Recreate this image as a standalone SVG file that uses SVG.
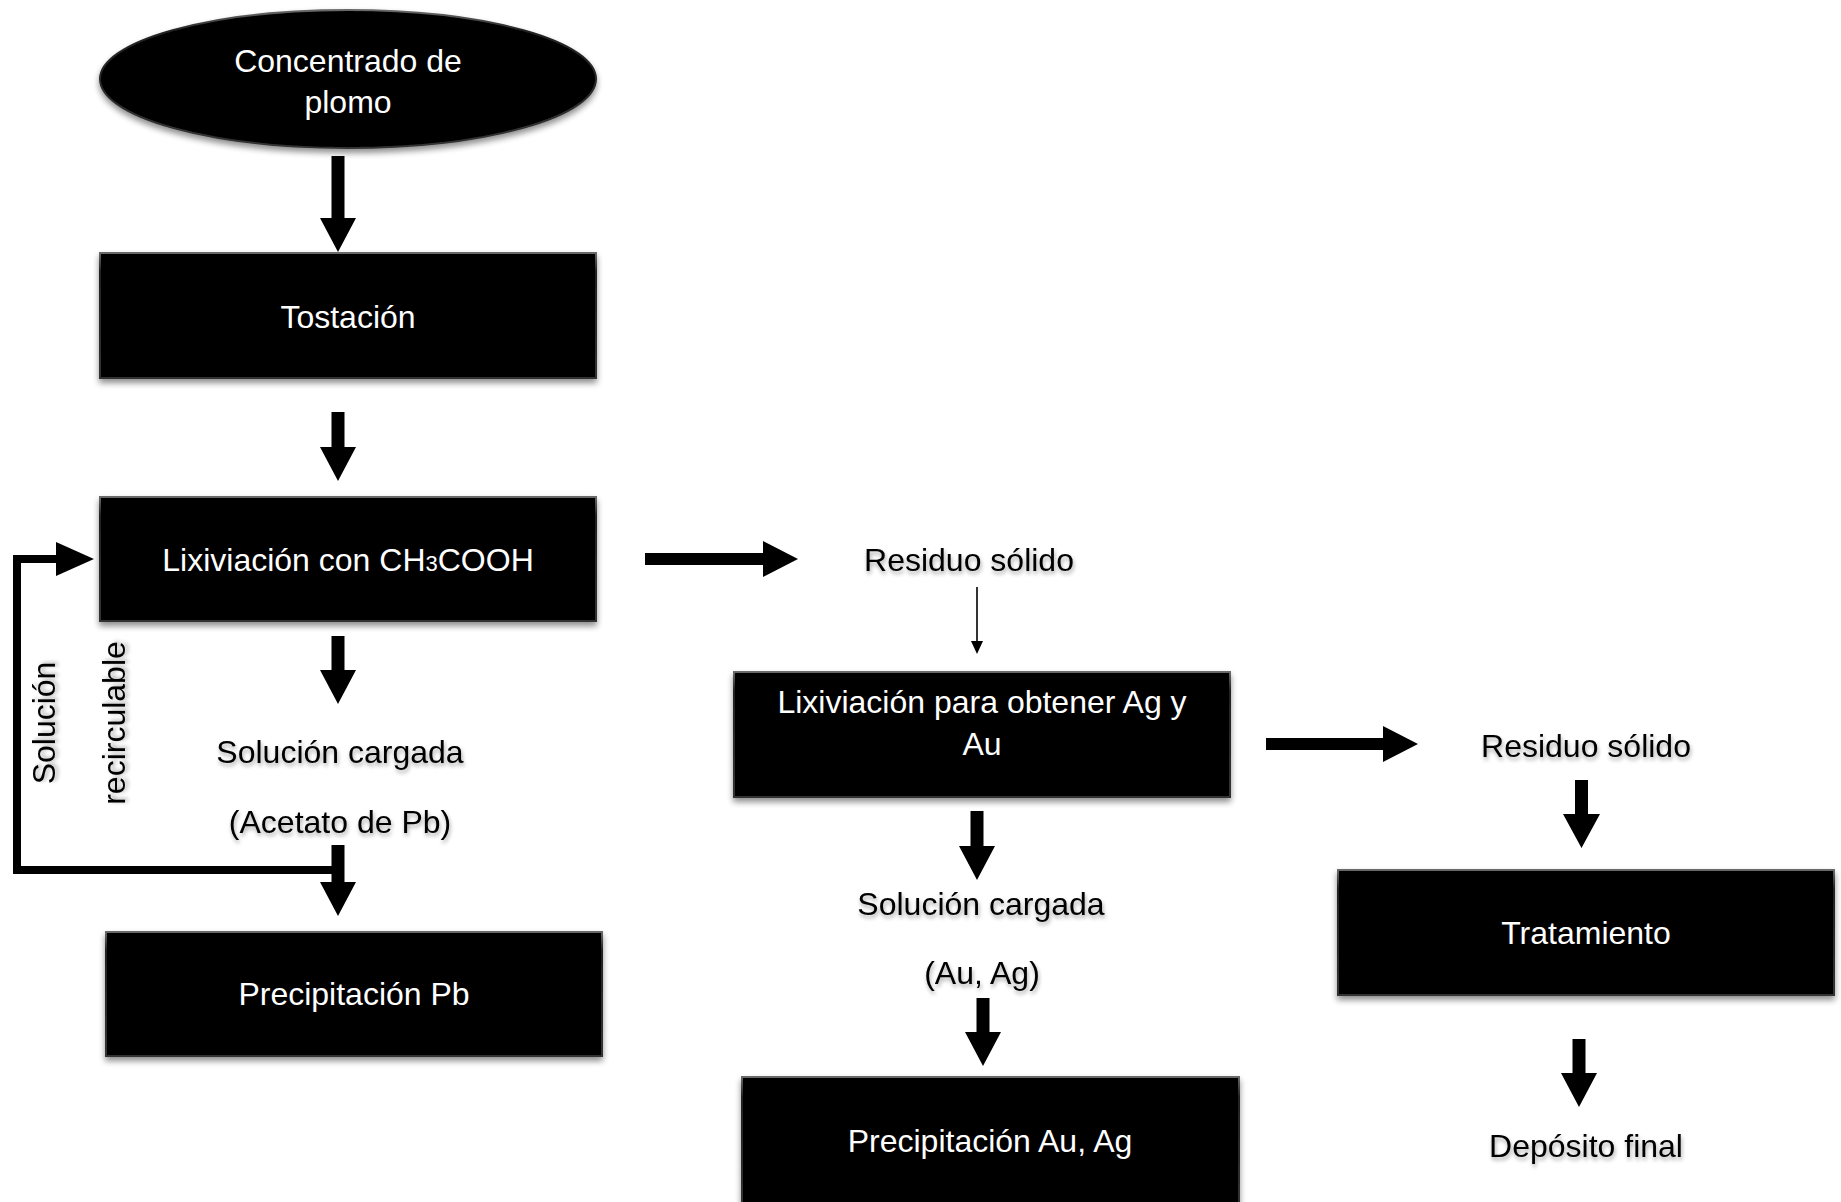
<svg xmlns="http://www.w3.org/2000/svg" width="1841" height="1202" viewBox="0 0 1841 1202">
<defs>
<filter id="shadow" x="-10%" y="-20%" width="120%" height="150%">
<feGaussianBlur in="SourceAlpha" stdDeviation="3"/>
<feOffset dx="0" dy="4" result="b"/>
<feComponentTransfer in="b" result="s"><feFuncA type="linear" slope="0.45"/></feComponentTransfer>
<feMerge><feMergeNode in="s"/><feMergeNode in="SourceGraphic"/></feMerge>
</filter>
<filter id="tshadow" x="-10%" y="-30%" width="120%" height="170%">
<feGaussianBlur in="SourceAlpha" stdDeviation="2.2"/>
<feOffset dx="1" dy="3" result="b"/>
<feComponentTransfer in="b" result="s"><feFuncA type="linear" slope="0.35"/></feComponentTransfer>
<feMerge><feMergeNode in="s"/><feMergeNode in="SourceGraphic"/></feMerge>
</filter>
<linearGradient id="bevel" x1="0" y1="0" x2="0" y2="1">
<stop offset="0" stop-color="#6a6a6a"/>
<stop offset="0.15" stop-color="#222"/>
<stop offset="1" stop-color="#333"/>
</linearGradient>
</defs>
<style>
.box{fill:#000;stroke:url(#bevel);stroke-width:2;filter:url(#shadow)}
.wt{fill:#fff;font-family:"Liberation Sans",Arial,sans-serif;font-size:32px;text-anchor:middle}
.bt{fill:#000;font-family:"Liberation Sans",Arial,sans-serif;font-size:32px;text-anchor:middle;filter:url(#tshadow)}
.arrow{fill:#000}
.thin{stroke:#000;stroke-width:1.6;fill:none}
.loop{stroke:#000;stroke-width:8;fill:none;stroke-linejoin:miter}
</style>
<rect width="1841" height="1202" fill="#fff"/>

<g id="connectors">
<polygon class="arrow" points="331.5,156 344.5,156 344.5,218 356,218 338,252 320,218 331.5,218"/>
<polygon class="arrow" points="331.5,412 344.5,412 344.5,447 356,447 338,481 320,447 331.5,447"/>
<polygon class="arrow" points="331.5,636 344.5,636 344.5,670 356,670 338,704 320,670 331.5,670"/>
<polyline class="loop" points="342,870 17,870 17,559 62,559"/>
<polygon class="arrow" points="56,542 94,559 56,576"/>
<polygon class="arrow" points="331.5,845 344.5,845 344.5,882 356,882 338,916 320,882 331.5,882"/>
<polygon class="arrow" points="645,553 763,553 763,541 798,559 763,577 763,565 645,565"/>
<line class="thin" x1="977" y1="587" x2="977" y2="643"/>
<polygon class="arrow" points="971,641 983,641 977,654"/>
<polygon class="arrow" points="970.5,811 983.5,811 983.5,846 995,846 977,880 959,846 970.5,846"/>
<polygon class="arrow" points="976.5,998 989.5,998 989.5,1032 1001,1032 983,1066 965,1032 976.5,1032"/>
<polygon class="arrow" points="1266,738 1383,738 1383,726 1418,744 1383,762 1383,750 1266,750"/>
<polygon class="arrow" points="1575,780 1588,780 1588,814 1600,814 1581.5,848 1563,814 1575,814"/>
<polygon class="arrow" points="1572.5,1039 1585.5,1039 1585.5,1073 1597,1073 1579,1107 1561,1073 1572.5,1073"/>
</g>

<g id="n-concentrado">
<ellipse cx="348" cy="79" rx="248" ry="69" fill="#000" stroke="url(#bevel)" stroke-width="2" filter="url(#shadow)"/>
<text class="wt" x="348" y="72">Concentrado de</text>
<text class="wt" x="348" y="113">plomo</text>
</g>

<g id="n-tostacion">
<rect class="box" x="100" y="253" width="496" height="125"/>
<text class="wt" x="348" y="328">Tostación</text>
</g>

<g id="n-lixiviacion1">
<rect class="box" x="100" y="497" width="496" height="124"/>
<text class="wt" x="348" y="571">Lixiviación con CH<tspan font-size="22">3</tspan>COOH</text>
</g>

<g id="n-recirc">
<text class="bt" transform="translate(55,723) rotate(-90)">Solución</text>
<text class="bt" transform="translate(125,723) rotate(-90)">recirculable</text>
</g>

<g id="n-solucion1">
<text class="bt" x="340" y="763">Solución cargada</text>
<text class="bt" x="340" y="833">(Acetato de Pb)</text>
</g>

<g id="n-precip-pb">
<rect class="box" x="106" y="932" width="496" height="124"/>
<text class="wt" x="354" y="1005">Precipitación Pb</text>
</g>

<g id="n-residuo1">
<text class="bt" x="969" y="571">Residuo sólido</text>
</g>

<g id="n-lixiviacion2">
<rect class="box" x="734" y="672" width="496" height="125"/>
<text class="wt" x="982" y="713">Lixiviación para obtener Ag y</text>
<text class="wt" x="982" y="755">Au</text>
</g>

<g id="n-solucion2">
<text class="bt" x="981" y="915">Solución cargada</text>
<text class="bt" x="982" y="984">(Au, Ag)</text>
</g>

<g id="n-precip-auag">
<rect class="box" x="742" y="1077" width="497" height="130"/>
<text class="wt" x="990" y="1152">Precipitación Au, Ag</text>
</g>

<g id="n-residuo2">
<text class="bt" x="1586" y="757">Residuo sólido</text>
</g>

<g id="n-tratamiento">
<rect class="box" x="1338" y="870" width="496" height="125"/>
<text class="wt" x="1586" y="944">Tratamiento</text>
</g>

<g id="n-deposito">
<text class="bt" x="1586" y="1157">Depósito final</text>
</g>
</svg>
